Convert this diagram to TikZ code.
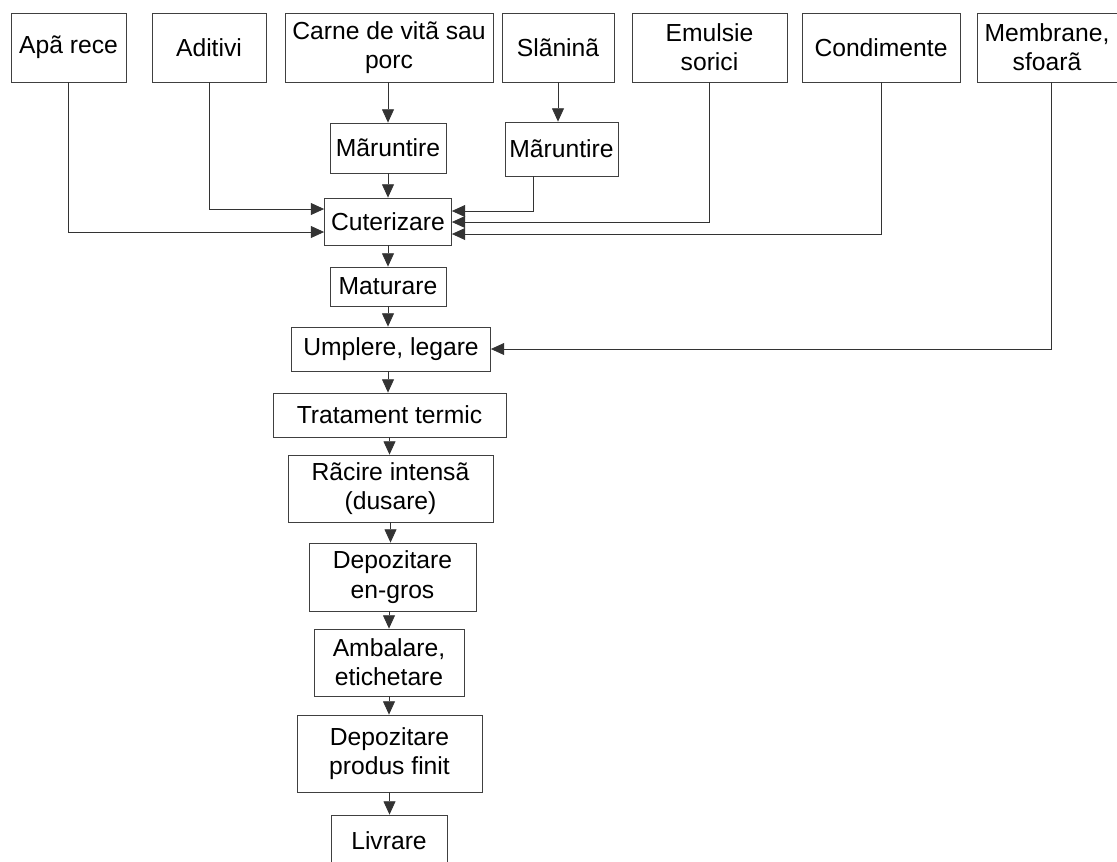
\documentclass[tikz,border=0pt]{standalone}
\usepackage{fontspec}
\setmainfont{Liberation Sans}
\usetikzlibrary{arrows.meta,calc}
\begin{document}
\begin{tikzpicture}[x=0.75pt,y=-0.75pt,
  font=\fontsize{18.5}{22}\selectfont,
  box/.style={draw=black!75, line width=0.6pt, inner sep=0pt, align=center},
  sz/.style 2 args={minimum width=#1*0.75pt, minimum height=#2*0.75pt},
  arr/.style={draw=black!80, line width=0.6pt, -{Triangle[length=10pt,width=9pt]}}]
\useasboundingbox (0,0) rectangle (1117,861);

% raw materials
\node[box, sz={115}{69}] (apa)  at (68.5,47.5)  {Apã rece};
\node[box, sz={114}{69}] (adit) at (209,47.5)   {Aditivi};
\node[box, sz={208}{69}] (carne) at (389,47.5)  {Carne de vitã sau\\porc};
\node[box, sz={112}{69}] (slan) at (558,47.5)   {Slãninã};
\node[box, sz={155}{69}] (emul) at (709.5,47.5) {Emulsie\\sorici};
\node[box, sz={158}{69}] (cond) at (881,47.5)   {Condimente};
\node[box, sz={140}{69}] (memb) at (1047,47.5)  {Membrane,\\sfoarã};

% mincing
\node[box, sz={116}{50}] (mar1) at (388,148)   {Mãruntire};
\node[box, sz={113}{54}] (mar2) at (561.5,149) {Mãruntire};

% main process line
\node[box, sz={127}{47}] (cut)  at (388,221.5)   {Cuterizare};
\node[box, sz={116}{39}] (mat)  at (388,286.5)   {Maturare};
\node[box, sz={199}{44}] (umpl) at (391,349)     {Umplere, legare};
\node[box, sz={233}{44}] (trat) at (389.5,415)   {Tratament termic};
\node[box, sz={205}{67}] (rac)  at (390.5,488.5) {Rãcire intensã\\(dusare)};
\node[box, sz={167}{68}] (dep1) at (392.5,577)   {Depozitare\\en-gros};
\node[box, sz={150}{67}] (amb)  at (389,662.5)   {Ambalare,\\etichetare};
\node[box, sz={185}{77}] (dep2) at (389.5,753.5) {Depozitare\\produs finit};
\node[box, sz={116}{52}] (livr) at (389,841)     {Livrare};

% feeds into the cutter
\draw[arr] (mar1.north |- carne.south) -- (mar1.north);
\draw[arr] (slan.south) -- (slan.south |- mar2.north);
\draw[arr] (mar1.south) -- (cut.north);
\draw[arr] (adit.south) |- ($(cut.west)+(0,-12.5)$);
\draw[arr] (apa.south)  |- ($(cut.west)+(0,10.5)$);
\draw[arr] ($(mar2.south)+(-28.5,0)$) |- ($(cut.east)+(0,-10.5)$);
\draw[arr] (emul.south) |- ($(cut.east)+(0,0.5)$);
\draw[arr] (cond.south) |- ($(cut.east)+(0,12.5)$);
\draw[arr] ($(memb.south)+(4,0)$) |- (umpl.east);

% process chain
\draw[arr] (cut.south)  -- (mat.north);
\draw[arr] (mat.south)  -- (mat.south |- umpl.north);
\draw[arr] (umpl.south -| mat.south) -- (mat.south |- trat.north);
\draw[arr] (trat.south) -- (trat.south |- rac.north);
\draw[arr] (rac.south)  -- (rac.south |- dep1.north);
\draw[arr] (amb.north |- dep1.south) -- (amb.north);
\draw[arr] (amb.south)  -- (amb.south |- dep2.north);
\draw[arr] (dep2.south) -- (dep2.south |- livr.north);
\end{tikzpicture}
\end{document}
